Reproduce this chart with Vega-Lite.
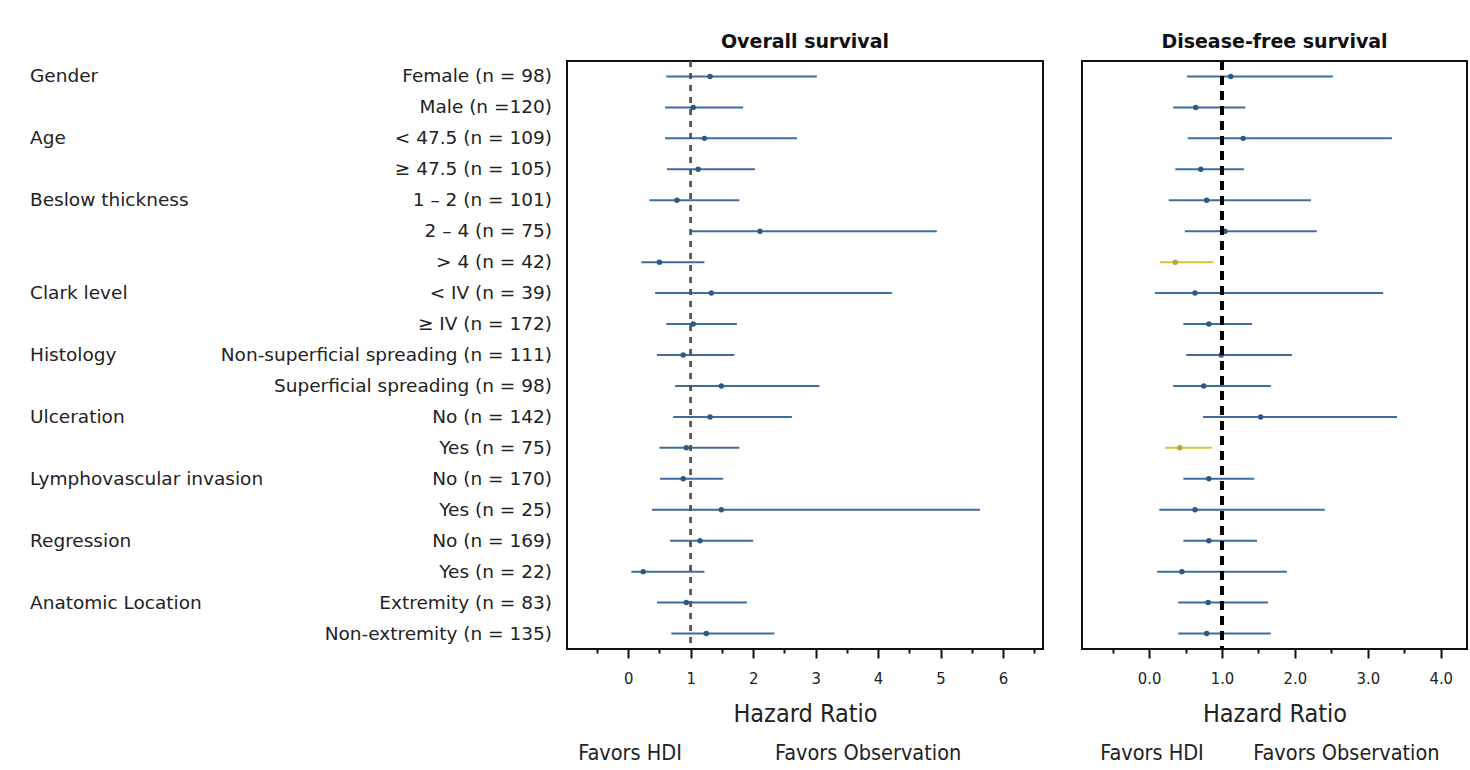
{
  "$schema": "https://vega.github.io/schema/vega-lite/v6.json",
  "background": "white",
  "padding": {"left": 30, "top": 31, "right": 3, "bottom": 0},
  "bounds": "flush",
  "align": "each",
  "columns": 4,
  "spacing": {"row": 95, "column": 15},
  "datasets": {
    "rows": [
      {"row": 1, "category": "Gender", "subgroup": "Female (n = 98)", "os_hr": 1.31, "os_lo": 0.61, "os_hi": 3.02, "dfs_hr": 1.12, "dfs_lo": 0.52, "dfs_hi": 2.52},
      {"row": 2, "category": "", "subgroup": "Male (n =120)", "os_hr": 1.04, "os_lo": 0.59, "os_hi": 1.84, "dfs_hr": 0.64, "dfs_lo": 0.33, "dfs_hi": 1.32},
      {"row": 3, "category": "Age", "subgroup": "< 47.5 (n = 109)", "os_hr": 1.22, "os_lo": 0.59, "os_hi": 2.70, "dfs_hr": 1.29, "dfs_lo": 0.53, "dfs_hi": 3.33},
      {"row": 4, "category": "", "subgroup": "≥ 47.5 (n = 105)", "os_hr": 1.12, "os_lo": 0.62, "os_hi": 2.03, "dfs_hr": 0.71, "dfs_lo": 0.36, "dfs_hi": 1.30},
      {"row": 5, "category": "Beslow thickness", "subgroup": "1 – 2 (n = 101)", "os_hr": 0.78, "os_lo": 0.34, "os_hi": 1.78, "dfs_hr": 0.79, "dfs_lo": 0.27, "dfs_hi": 2.22},
      {"row": 6, "category": "", "subgroup": "2 – 4 (n = 75)", "os_hr": 2.11, "os_lo": 1.01, "os_hi": 4.94, "dfs_hr": 1.04, "dfs_lo": 0.49, "dfs_hi": 2.30},
      {"row": 7, "category": "", "subgroup": "> 4 (n = 42)", "os_hr": 0.50, "os_lo": 0.21, "os_hi": 1.22, "dfs_hr": 0.36, "dfs_lo": 0.15, "dfs_hi": 0.88},
      {"row": 8, "category": "Clark level", "subgroup": "< IV (n = 39)", "os_hr": 1.33, "os_lo": 0.43, "os_hi": 4.22, "dfs_hr": 0.63, "dfs_lo": 0.08, "dfs_hi": 3.21},
      {"row": 9, "category": "", "subgroup": "≥ IV (n = 172)", "os_hr": 1.04, "os_lo": 0.61, "os_hi": 1.74, "dfs_hr": 0.82, "dfs_lo": 0.47, "dfs_hi": 1.41},
      {"row": 10, "category": "Histology", "subgroup": "Non-superficial spreading (n = 111)", "os_hr": 0.88, "os_lo": 0.46, "os_hi": 1.70, "dfs_hr": 0.99, "dfs_lo": 0.51, "dfs_hi": 1.96},
      {"row": 11, "category": "", "subgroup": "Superficial spreading (n = 98)", "os_hr": 1.49, "os_lo": 0.75, "os_hi": 3.06, "dfs_hr": 0.75, "dfs_lo": 0.33, "dfs_hi": 1.67},
      {"row": 12, "category": "Ulceration", "subgroup": "No (n = 142)", "os_hr": 1.31, "os_lo": 0.72, "os_hi": 2.62, "dfs_hr": 1.53, "dfs_lo": 0.74, "dfs_hi": 3.40},
      {"row": 13, "category": "", "subgroup": "Yes (n = 75)", "os_hr": 0.93, "os_lo": 0.50, "os_hi": 1.78, "dfs_hr": 0.42, "dfs_lo": 0.22, "dfs_hi": 0.86},
      {"row": 14, "category": "Lymphovascular invasion", "subgroup": "No (n = 170)", "os_hr": 0.88, "os_lo": 0.51, "os_hi": 1.52, "dfs_hr": 0.82, "dfs_lo": 0.47, "dfs_hi": 1.44},
      {"row": 15, "category": "", "subgroup": "Yes (n = 25)", "os_hr": 1.49, "os_lo": 0.38, "os_hi": 5.63, "dfs_hr": 0.63, "dfs_lo": 0.14, "dfs_hi": 2.41},
      {"row": 16, "category": "Regression", "subgroup": "No (n = 169)", "os_hr": 1.15, "os_lo": 0.67, "os_hi": 2.00, "dfs_hr": 0.82, "dfs_lo": 0.47, "dfs_hi": 1.48},
      {"row": 17, "category": "", "subgroup": "Yes (n = 22)", "os_hr": 0.24, "os_lo": 0.05, "os_hi": 1.22, "dfs_hr": 0.45, "dfs_lo": 0.11, "dfs_hi": 1.89},
      {"row": 18, "category": "Anatomic Location", "subgroup": "Extremity (n = 83)", "os_hr": 0.93, "os_lo": 0.46, "os_hi": 1.90, "dfs_hr": 0.81, "dfs_lo": 0.40, "dfs_hi": 1.63},
      {"row": 19, "category": "", "subgroup": "Non-extremity (n = 135)", "os_hr": 1.25, "os_lo": 0.69, "os_hi": 2.34, "dfs_hr": 0.79, "dfs_lo": 0.40, "dfs_hi": 1.67}
    ]
  },
  "concat": [
    {
      "width": 522,
      "height": 588,
      "view": {"stroke": null},
      "data": {"name": "rows"},
      "layer": [
        {
          "mark": {"type": "text", "align": "left", "baseline": "middle", "fontSize": 18.5, "font": "DejaVu Sans", "color": "#222"},
          "encoding": {
            "x": {"datum": 0, "type": "quantitative", "scale": {"domain": [0, 1], "nice": false, "zero": false}, "axis": null},
            "y": {"field": "row", "type": "ordinal", "scale": {"type": "point", "padding": 0.5}, "axis": null},
            "text": {"field": "category"}
          }
        },
        {
          "mark": {"type": "text", "align": "right", "baseline": "middle", "fontSize": 18.5, "font": "DejaVu Sans", "color": "#222"},
          "encoding": {
            "x": {"datum": 1, "type": "quantitative", "axis": null},
            "y": {"field": "row", "type": "ordinal", "axis": null},
            "text": {"field": "subgroup"}
          }
        }
      ]
    },
    {
      "width": 476,
      "height": 588,
      "title": {"text": "Overall survival", "fontSize": 19, "font": "DejaVu Sans", "fontWeight": "bold", "color": "#111", "offset": 8},
      "data": {"name": "rows"},
      "encoding": {
        "y": {"field": "row", "type": "ordinal", "scale": {"type": "point", "padding": 0.5}, "axis": null}
      },
      "layer": [
        {
          "mark": {"type": "rule", "strokeWidth": 2, "color": "#3f6e9c"},
          "encoding": {
            "x": {
              "field": "os_lo", "type": "quantitative",
              "scale": {"domain": [-0.98, 6.64], "nice": false, "zero": false},
              "axis": {
                "values": [-0.5, 0, 0.5, 1, 1.5, 2, 2.5, 3, 3.5, 4, 4.5, 5, 5.5, 6, 6.5],
                "tickCount": 40,
                "labelExpr": "datum.value % 1 === 0 ? format(datum.value, '.0f') : ''",
                "tickSize": {"condition": {"test": "datum.value % 1 !== 0", "value": 4}, "value": 9},
                "domain": false, "grid": false, "tickColor": "#111", "tickWidth": 2,
                "labelFont": "DejaVu Sans Condensed", "labelFontSize": 16.5, "labelColor": "#222", "labelPadding": 12,
                "title": "Hazard Ratio", "titleFont": "DejaVu Sans Condensed", "titleFontSize": 25, "titleFontWeight": "normal", "titleColor": "#222", "titlePadding": 15
              }
            },
            "x2": {"field": "os_hi"}
          }
        },
        {
          "mark": {"type": "point", "shape": "circle", "filled": true, "size": 30, "color": "#2c5a85", "opacity": 1},
          "encoding": {
            "x": {"field": "os_hr", "type": "quantitative"}
          }
        },
        {
          "mark": {"type": "rule", "color": "#555", "strokeWidth": 1.5, "strokeDash": [6, 6]},
          "encoding": {
            "x": {"datum": 1, "type": "quantitative"},
            "y": null
          }
        }
      ]
    },
    {
      "width": 9,
      "height": 588,
      "view": {"stroke": null},
      "data": {"values": [{}]},
      "mark": {"type": "text", "text": ""},
      "encoding": {}
    },
    {
      "width": 385,
      "height": 588,
      "title": {"text": "Disease-free survival", "fontSize": 19, "font": "DejaVu Sans", "fontWeight": "bold", "color": "#111", "offset": 8},
      "data": {"name": "rows"},
      "encoding": {
        "y": {"field": "row", "type": "ordinal", "scale": {"type": "point", "padding": 0.5}, "axis": null}
      },
      "layer": [
        {
          "mark": {"type": "rule", "strokeWidth": 2},
          "encoding": {
            "x": {
              "field": "dfs_lo", "type": "quantitative",
              "scale": {"domain": [-0.92, 4.36], "nice": false, "zero": false},
              "axis": {
                "values": [-0.5, 0, 0.5, 1, 1.5, 2, 2.5, 3, 3.5, 4],
                "tickCount": 40,
                "labelExpr": "datum.value % 1 === 0 ? format(datum.value, '.1f') : ''",
                "tickSize": {"condition": {"test": "datum.value % 1 !== 0", "value": 4}, "value": 9},
                "domain": false, "grid": false, "tickColor": "#111", "tickWidth": 2,
                "labelFont": "DejaVu Sans Condensed", "labelFontSize": 16.5, "labelColor": "#222", "labelPadding": 12,
                "title": "Hazard Ratio", "titleFont": "DejaVu Sans Condensed", "titleFontSize": 25, "titleFontWeight": "normal", "titleColor": "#222", "titlePadding": 15
              }
            },
            "x2": {"field": "dfs_hi"},
            "color": {"condition": {"test": "datum.dfs_hi < 1", "value": "#d8c23a"}, "value": "#3f6e9c"}
          }
        },
        {
          "mark": {"type": "point", "shape": "circle", "filled": true, "size": 30, "opacity": 1},
          "encoding": {
            "x": {"field": "dfs_hr", "type": "quantitative"},
            "color": {"condition": {"test": "datum.dfs_hi < 1", "value": "#b9a53a"}, "value": "#2c5a85"}
          }
        },
        {
          "mark": {"type": "rule", "color": "#000", "strokeWidth": 3, "strokeDash": [9, 6]},
          "encoding": {
            "x": {"datum": 1, "type": "quantitative"},
            "y": null
          }
        }
      ]
    },
    {
      "width": 522,
      "height": 20,
      "view": {"stroke": null},
      "data": {"values": [{}]},
      "mark": {"type": "text", "text": ""},
      "encoding": {}
    },
    {
      "width": 476,
      "height": 20,
      "view": {"stroke": null},
      "data": {"values": [{}]},
      "layer": [
        {
          "mark": {"type": "text", "text": "Favors HDI", "align": "left", "baseline": "middle", "font": "DejaVu Sans Condensed", "fontSize": 21.5, "color": "#222"},
          "encoding": {"x": {"datum": -0.8, "type": "quantitative", "scale": {"domain": [-0.98, 6.64], "nice": false, "zero": false}, "axis": null}}
        },
        {
          "mark": {"type": "text", "text": "Favors Observation", "align": "left", "baseline": "middle", "font": "DejaVu Sans Condensed", "fontSize": 21.5, "color": "#222"},
          "encoding": {"x": {"datum": 2.35, "type": "quantitative", "axis": null}}
        }
      ]
    },
    {
      "width": 9,
      "height": 20,
      "view": {"stroke": null},
      "data": {"values": [{}]},
      "mark": {"type": "text", "text": ""},
      "encoding": {}
    },
    {
      "width": 385,
      "height": 20,
      "view": {"stroke": null},
      "data": {"values": [{}]},
      "layer": [
        {
          "mark": {"type": "text", "text": "Favors HDI", "align": "left", "baseline": "middle", "font": "DejaVu Sans Condensed", "fontSize": 21.5, "color": "#222"},
          "encoding": {"x": {"datum": -0.67, "type": "quantitative", "scale": {"domain": [-0.92, 4.36], "nice": false, "zero": false}, "axis": null}}
        },
        {
          "mark": {"type": "text", "text": "Favors Observation", "align": "left", "baseline": "middle", "font": "DejaVu Sans Condensed", "fontSize": 21.5, "color": "#222"},
          "encoding": {"x": {"datum": 1.43, "type": "quantitative", "axis": null}}
        }
      ]
    }
  ],
  "config": {
    "view": {"stroke": "#111", "strokeWidth": 2},
    "font": "DejaVu Sans"
  }
}
